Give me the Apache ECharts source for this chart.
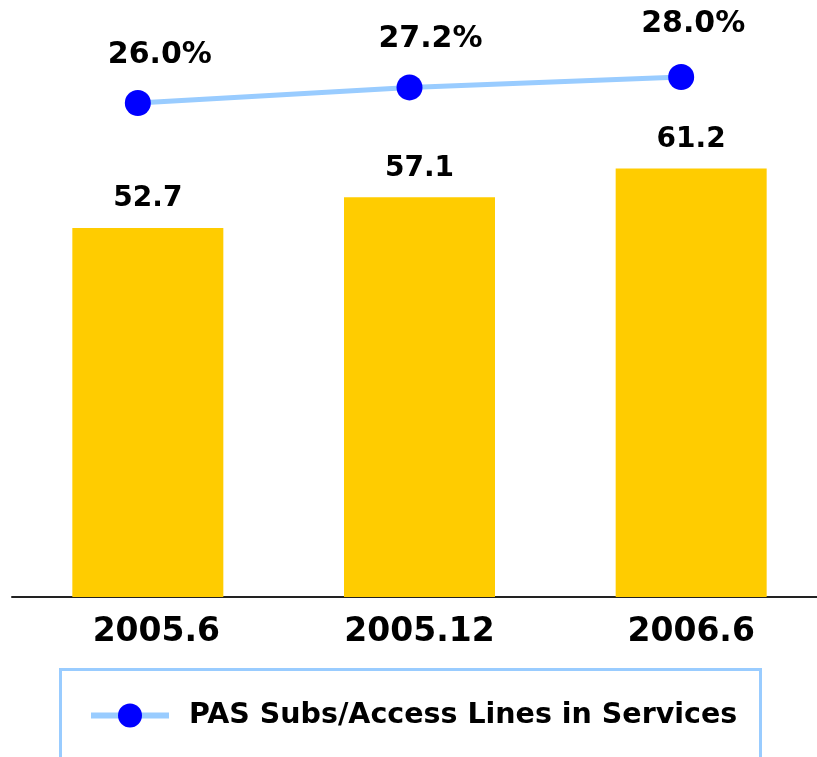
<!DOCTYPE html>
<html>
<head>
<meta charset="utf-8">
<script src="https://cdn.jsdelivr.net/npm/echarts@6/dist/echarts.min.js"></script>
<style>
  html, body { margin: 0; padding: 0; background: #ffffff; }
  #chart { width: 817px; height: 757px; }
</style>
</head>
<body>
<div id="chart"></div>
<script>
// Period labels, subscriber counts (bars) and ratio (line, %)
const periods = ['2005.6', '2005.12', '2006.6'];
const subsValues = [52.7, 57.1, 61.2];
const ratioValues = [26.0, 27.2, 28.0];
const ratioName = 'PAS Subs/Access Lines in Services';

const FONT = '"DejaVu Sans", Verdana, sans-serif';
const ratioLabelOffsets = [[22, 0], [21, 0], [12, -5]];

const chart = echarts.init(document.getElementById('chart'));

const axisFont = {
  color: '#000000',
  fontFamily: FONT,
  fontWeight: 'bold',
  fontSize: 33
};

chart.setOption({
  animation: false,
  backgroundColor: '#ffffff',
  grid: [
    { left: 12, width: 815, top: 37, height: 560, outerBoundsMode: 'none' },
    { left: 2, width: 815, top: 51, height: 104, outerBoundsMode: 'none' }
  ],
  xAxis: [
    {
      type: 'category',
      gridIndex: 0,
      data: periods,
      axisTick: { show: false },
      axisLine: { show: true, lineStyle: { color: '#222222', width: 2 } },
      axisLabel: Object.assign({}, axisFont, {
        interval: 0,
        hideOverlap: false,
        margin: 19,
        // first period label sits slightly right of its bar
        formatter: (v, i) => (i === 0 ? '{first|' + v + '}' : v),
        rich: {
          first: Object.assign({}, axisFont, { padding: [0, 0, 0, 17] })
        }
      })
    },
    {
      type: 'category',
      gridIndex: 1,
      data: periods,
      show: false
    }
  ],
  yAxis: [
    { type: 'value', gridIndex: 0, min: 0, max: 80, show: false },
    { type: 'value', gridIndex: 1, min: 22, max: 30, show: false }
  ],
  legend: {
    data: [ratioName],
    left: 88,
    top: 701,
    padding: 0,
    itemWidth: 78,
    itemHeight: 30,
    lineStyle: { width: 6, color: '#99CCFF' },
    textStyle: {
      color: '#000000',
      fontFamily: FONT,
      fontWeight: 'bold',
      fontSize: 28.5,
      padding: [0, 0, 0, 15]
    }
  },
  graphic: [
    {
      type: 'rect',
      silent: true,
      shape: { x: 60.5, y: 669.5, width: 700, height: 140 },
      style: { fill: 'none', stroke: '#99CCFF', lineWidth: 3 }
    }
  ],
  series: [
    {
      name: 'PAS Subs',
      type: 'bar',
      xAxisIndex: 0,
      yAxisIndex: 0,
      data: subsValues,
      barWidth: 151,
      itemStyle: { color: '#FFCC00' },
      label: {
        show: true,
        position: 'top',
        distance: 15,
        color: '#000000',
        fontFamily: FONT,
        fontWeight: 'bold',
        fontSize: 28,
        formatter: p => p.value.toFixed(1)
      }
    },
    {
      name: ratioName,
      type: 'line',
      xAxisIndex: 1,
      yAxisIndex: 1,
      data: ratioValues.map((v, i) => ({
        value: v,
        label: { offset: ratioLabelOffsets[i] }
      })),
      symbol: 'circle',
      symbolSize: 26,
      lineStyle: { color: '#99CCFF', width: 5 },
      itemStyle: { color: '#0000FF' },
      label: {
        show: true,
        position: 'top',
        distance: 20,
        color: '#000000',
        fontFamily: FONT,
        fontWeight: 'bold',
        fontSize: 30,
        formatter: p => p.value.toFixed(1) + '%'
      }
    }
  ]
});
</script>
</body>
</html>
